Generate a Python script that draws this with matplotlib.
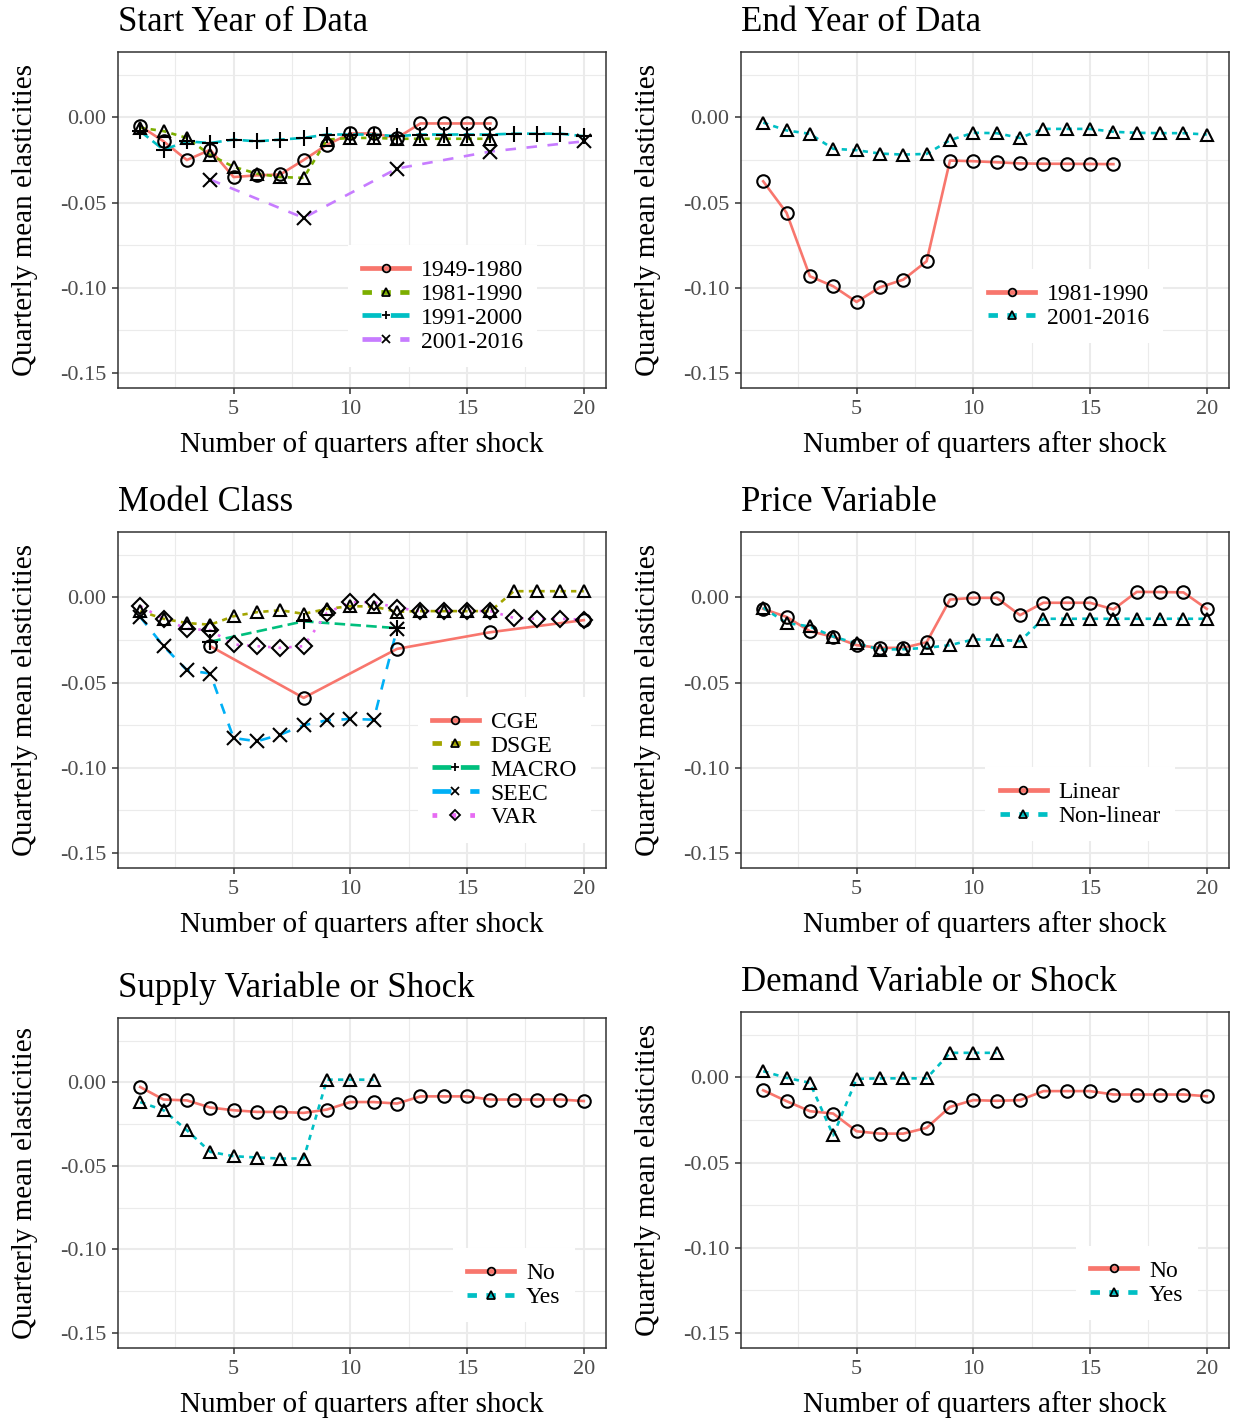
import matplotlib
matplotlib.use('Agg')
import matplotlib.pyplot as plt
from matplotlib.lines import Line2D

plt.rcParams['font.family'] = ['Liberation Serif', 'DejaVu Serif']

# ---- data ----
q16 = list(range(1, 17))
q20 = list(range(1, 21))
q4 = [4, 8, 12, 16, 20]

# Start Year of Data
start_labels = ['1949-1980', '1981-1990', '1991-2000', '2001-2016']
start_x = [q16, q16, q20, q4]
start_1949 = [-0.005, -0.014, -0.025, -0.019, -0.035, -0.034, -0.0335, -0.025,
              -0.016, -0.0094, -0.0094, -0.012, -0.0035, -0.0035, -0.0035, -0.0035]
start_1981 = [-0.006, -0.008, -0.012, -0.022, -0.029, -0.033, -0.035, -0.0355,
              -0.013, -0.012, -0.012, -0.0125, -0.0125, -0.0125, -0.0125, -0.0125]
start_1991 = [-0.008, -0.019, -0.014, -0.015, -0.013, -0.014, -0.013, -0.012, -0.010, -0.010,
              -0.010, -0.011, -0.010, -0.010, -0.010, -0.010, -0.0095, -0.0095, -0.0095, -0.011]
start_2001 = [-0.0365, -0.059, -0.030, -0.020, -0.014]

# End Year of Data
end_labels = ['1981-1990', '2001-2016']
end_x = [q16, q20]
end_1981 = [-0.0375, -0.056, -0.0933, -0.0992, -0.1084, -0.0998, -0.0953, -0.0845,
            -0.0253, -0.0257, -0.0263, -0.027, -0.0272, -0.0272, -0.0273, -0.0274]
end_2001 = [-0.003, -0.0076, -0.0096, -0.0184, -0.0192, -0.0212, -0.0218, -0.0214, -0.0133, -0.009,
            -0.0092, -0.012, -0.0067, -0.0067, -0.0067, -0.0084, -0.009, -0.0092, -0.0092, -0.010]

# Model Class
model_labels = ['CGE', 'DSGE', 'MACRO', 'SEEC', 'VAR']
model_x = [q4, q20, [4, 8, 12], list(range(1, 13)), q20]
model_cge = [-0.0286, -0.059, -0.0302, -0.0204, -0.0133]
model_dsge = [-0.008, -0.0125, -0.015, -0.016, -0.011, -0.0086, -0.0075, -0.0096, -0.0067, -0.0051,
              -0.0053, -0.0084, -0.008, -0.008, -0.008, -0.008, 0.0037, 0.0037, 0.0037, 0.0037]
model_macro = [-0.026, -0.014, -0.018]
model_seec = [-0.0114, -0.0286, -0.0427, -0.0447, -0.0826, -0.0845, -0.0806, -0.0751,
              -0.0722, -0.0714, -0.0718, -0.0184]
model_var = [-0.0051, -0.0125, -0.0184, -0.0192, -0.0276, -0.0286, -0.0296, -0.0286, -0.009, -0.0028,
             -0.0028, -0.006, -0.008, -0.008, -0.008, -0.008, -0.012, -0.0125, -0.0125, -0.013]

# Price Variable
price_labels = ['Linear', 'Non-linear']
price_x = [q20, q20]
price_lin = [-0.0067, -0.0114, -0.0198, -0.0231, -0.028, -0.0296, -0.0296, -0.0263, -0.0012, -0.0002,
             -0.0002, -0.0104, -0.0031, -0.0031, -0.0031, -0.007, 0.0033, 0.0032, 0.003, -0.0067]
price_nonlin = [-0.006, -0.015, -0.017, -0.023, -0.027, -0.0306, -0.0304, -0.0296, -0.028, -0.0247,
                -0.0247, -0.0257, -0.0125, -0.0125, -0.0125, -0.0125, -0.0125, -0.0125, -0.0125, -0.0125]

# Supply Variable or Shock
supply_labels = ['No', 'Yes']
supply_x = [q20, list(range(1, 12))]
supply_no = [-0.0028, -0.0103, -0.0108, -0.0151, -0.0167, -0.0177, -0.0177, -0.0183, -0.0163, -0.0118,
             -0.0118, -0.0127, -0.0084, -0.0084, -0.0084, -0.0103, -0.0103, -0.0103, -0.0103, -0.0112]
supply_yes = [-0.0118, -0.0167, -0.0287, -0.0416, -0.0442, -0.045, -0.0456, -0.0456,
              0.0016, 0.0016, 0.0016]

# Demand Variable or Shock
demand_labels = ['No', 'Yes']
demand_x = [q20, list(range(1, 12))]
demand_no = [-0.0075, -0.0139, -0.0198, -0.0212, -0.0316, -0.033, -0.033, -0.0296, -0.0173, -0.0133,
             -0.0137, -0.0133, -0.008, -0.008, -0.008, -0.01, -0.01, -0.01, -0.01, -0.011]
demand_yes = [0.0037, -0.0002, -0.0031, -0.034, -0.0008, -0.0005, -0.0005, -0.0005,
              0.0145, 0.0145, 0.0145]

# ---- styling ----
hue2 = ['#F8766D', '#00BFC4']
hue4 = ['#F8766D', '#7CAE00', '#00BFC4', '#C77CFF']
hue5 = ['#F8766D', '#A3A500', '#00BF7D', '#00B0F6', '#E76BF3']
markers = ['o', '^', '+', 'x', 'D']
msizes = [9, 9, 12, 10, 8]
linetypes = ['-', (0, (2, 2)), (0, (4, 2)), (0, (4, 4)), (0, (1, 3))]

W, H = 1235, 1420
fig = plt.figure(figsize=(W / 100, H / 100), dpi=100)


def panel(box, title, labels, xs, ys, colors, leg_xy):
    x0, y0, x1, y1 = box
    ax = fig.add_axes([x0 / W, 1 - y1 / H, (x1 - x0) / W, (y1 - y0) / H])
    ax.set_xlim(0.05, 20.95)
    ax.set_ylim(-0.159, 0.0385)
    ax.set_xticks([5, 10, 15, 20])
    ax.set_xticks([2.5, 7.5, 12.5, 17.5], minor=True)
    ax.set_yticks([-0.15, -0.10, -0.05, 0.0])
    ax.set_yticklabels(['-0.15', '-0.10', '-0.05', '0.00'])
    ax.set_yticks([-0.125, -0.075, -0.025, 0.025], minor=True)
    ax.grid(True, which='major', color='#EBEBEB', lw=1.5, zorder=0)
    ax.grid(True, which='minor', color='#EBEBEB', lw=0.8, zorder=0)
    ax.set_axisbelow(True)
    for s in ax.spines.values():
        s.set_color('#333333')
        s.set_linewidth(1.1)
    ax.tick_params(which='major', length=4.5, width=1.1, color='#333333',
                   labelsize=16, labelcolor='#4D4D4D', pad=4)
    ax.tick_params(which='minor', length=0)

    handles = []
    for i, lab in enumerate(labels):
        ax.plot(xs[i], ys[i], color=colors[i], lw=1.9, ls=linetypes[i], zorder=2)
        ax.plot(xs[i], ys[i], ls='none', marker=markers[i], ms=msizes[i], mfc='none',
                mec='black', mew=1.5, zorder=3)
        handles.append(Line2D([], [], color=colors[i], lw=3.4, ls=linetypes[i],
                              marker=markers[i], ms=5.5, mfc='none', mec='black', mew=1.3))
    pad = 0.6
    leg = ax.legend(handles, labels, loc='center left',
                    bbox_to_anchor=(leg_xy[0] - pad * 17 * 1.389 / (x1 - x0), leg_xy[1]),
                    fontsize=17, frameon=True, facecolor='white', edgecolor='none',
                    framealpha=1, fancybox=False, borderpad=pad, handlelength=2.0,
                    handletextpad=0.5, labelspacing=0.1, borderaxespad=0)
    leg.set_zorder(4)

    ax.set_title(title, loc='left', fontsize=25, pad=15)
    ax.set_xlabel('Number of quarters after shock', fontsize=21, labelpad=9)
    ax.set_ylabel('Quarterly mean elasticities', fontsize=21, labelpad=16)
    return ax


panel((118, 52, 606, 388), 'Start Year of Data', start_labels, start_x,
      [start_1949, start_1981, start_1991, start_2001], hue4, (0.50, 0.244))
panel((741, 52, 1229, 388), 'End Year of Data', end_labels, end_x,
      [end_1981, end_2001], hue2, (0.506, 0.244))
panel((118, 532, 606, 868), 'Model Class', model_labels, model_x,
      [model_cge, model_dsge, model_macro, model_seec, model_var], hue5, (0.643, 0.292))
panel((741, 532, 1229, 868), 'Price Variable', price_labels, price_x,
      [price_lin, price_nonlin], hue2, (0.53, 0.19))
panel((118, 1018, 606, 1348), 'Supply Variable or Shock', supply_labels, supply_x,
      [supply_no, supply_yes], hue2, (0.715, 0.19))
panel((741, 1012, 1229, 1348), 'Demand Variable or Shock', demand_labels, demand_x,
      [demand_no, demand_yes], hue2, (0.715, 0.194))

fig.savefig('out.png', dpi=100)
